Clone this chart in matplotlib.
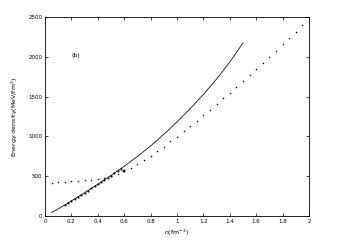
import matplotlib
matplotlib.use("Agg")
import matplotlib.pyplot as plt
import numpy as np

# solid curve
n_solid = [0.05, 0.1, 0.2, 0.3, 0.4, 0.5, 0.6, 0.7, 0.8, 0.9, 1.0, 1.1, 1.2, 1.3, 1.4, 1.5]
e_solid = [45, 90, 190, 293, 400, 510, 625, 748, 880, 1025, 1183, 1350, 1528, 1722, 1935, 2175]

# sparse dotted curve
n_dot = [0.05, 0.1, 0.15, 0.2, 0.25, 0.3, 0.35, 0.4, 0.45, 0.5, 0.55, 0.6, 0.65,
         0.7, 0.75, 0.8, 0.85, 0.9, 0.95, 1.0, 1.05, 1.1, 1.15, 1.2, 1.25, 1.3,
         1.35, 1.4, 1.45, 1.5, 1.55, 1.6, 1.65, 1.7, 1.75, 1.8, 1.85, 1.9, 1.95]
e_dot = [415, 425, 432, 438, 443, 450, 458, 466, 478, 500, 530, 565, 607,
         653, 703, 758, 813, 871, 938, 996, 1064, 1131, 1197, 1265, 1335, 1407,
         1479, 1549, 1625, 1700, 1771, 1847, 1926, 1998, 2077, 2157, 2232, 2311, 2396]

# dense dots lying on the solid curve
n_dense = [0.15, 0.175, 0.2, 0.225, 0.25, 0.275, 0.3, 0.325, 0.35, 0.375, 0.4,
           0.425, 0.45, 0.475, 0.5, 0.525, 0.55, 0.575, 0.59, 0.6]
e_dense = [140, 165, 190, 215, 242, 268, 293, 320, 347, 373, 400,
           427, 453, 480, 508, 535, 563, 588, 565, 583]

fig = plt.figure(figsize=(3.42, 2.44), dpi=100)
ax = fig.add_axes([0.1316, 0.1148, 0.7719, 0.8152])

ax.plot(n_solid, e_solid, color='#111111', lw=0.6)
ax.plot(n_dot, e_dot, linestyle='none', marker='s', ms=1.0, color='black', mew=0)
ax.plot(n_dense, e_dense, linestyle='none', marker='s', ms=1.3, color='black', mew=0)

ax.set_xlim(0, 2)
ax.set_ylim(0, 2500)
ax.set_xticks(np.arange(0, 2.01, 0.2))
ax.set_xticklabels(['0', '0.2', '0.4', '0.6', '0.8', '1', '1.2', '1.4', '1.6', '1.8', '2'])
ax.set_yticks([0, 500, 1000, 1500, 2000, 2500])
ax.tick_params(direction='in', length=2, width=0.5, labelsize=4, pad=2,
               top=True, right=True)
for s in ax.spines.values():
    s.set_linewidth(0.6)

ax.set_xlabel(r'$n$(fm$^{-3}$)', fontsize=4.5, labelpad=3)
ax.set_ylabel(r'Energy density(MeV/fm$^{3}$)', fontsize=4.5, labelpad=6)
ax.text(0.2, 2000, '(b)', fontsize=4.5)

fig.savefig('out.png', dpi=100)
